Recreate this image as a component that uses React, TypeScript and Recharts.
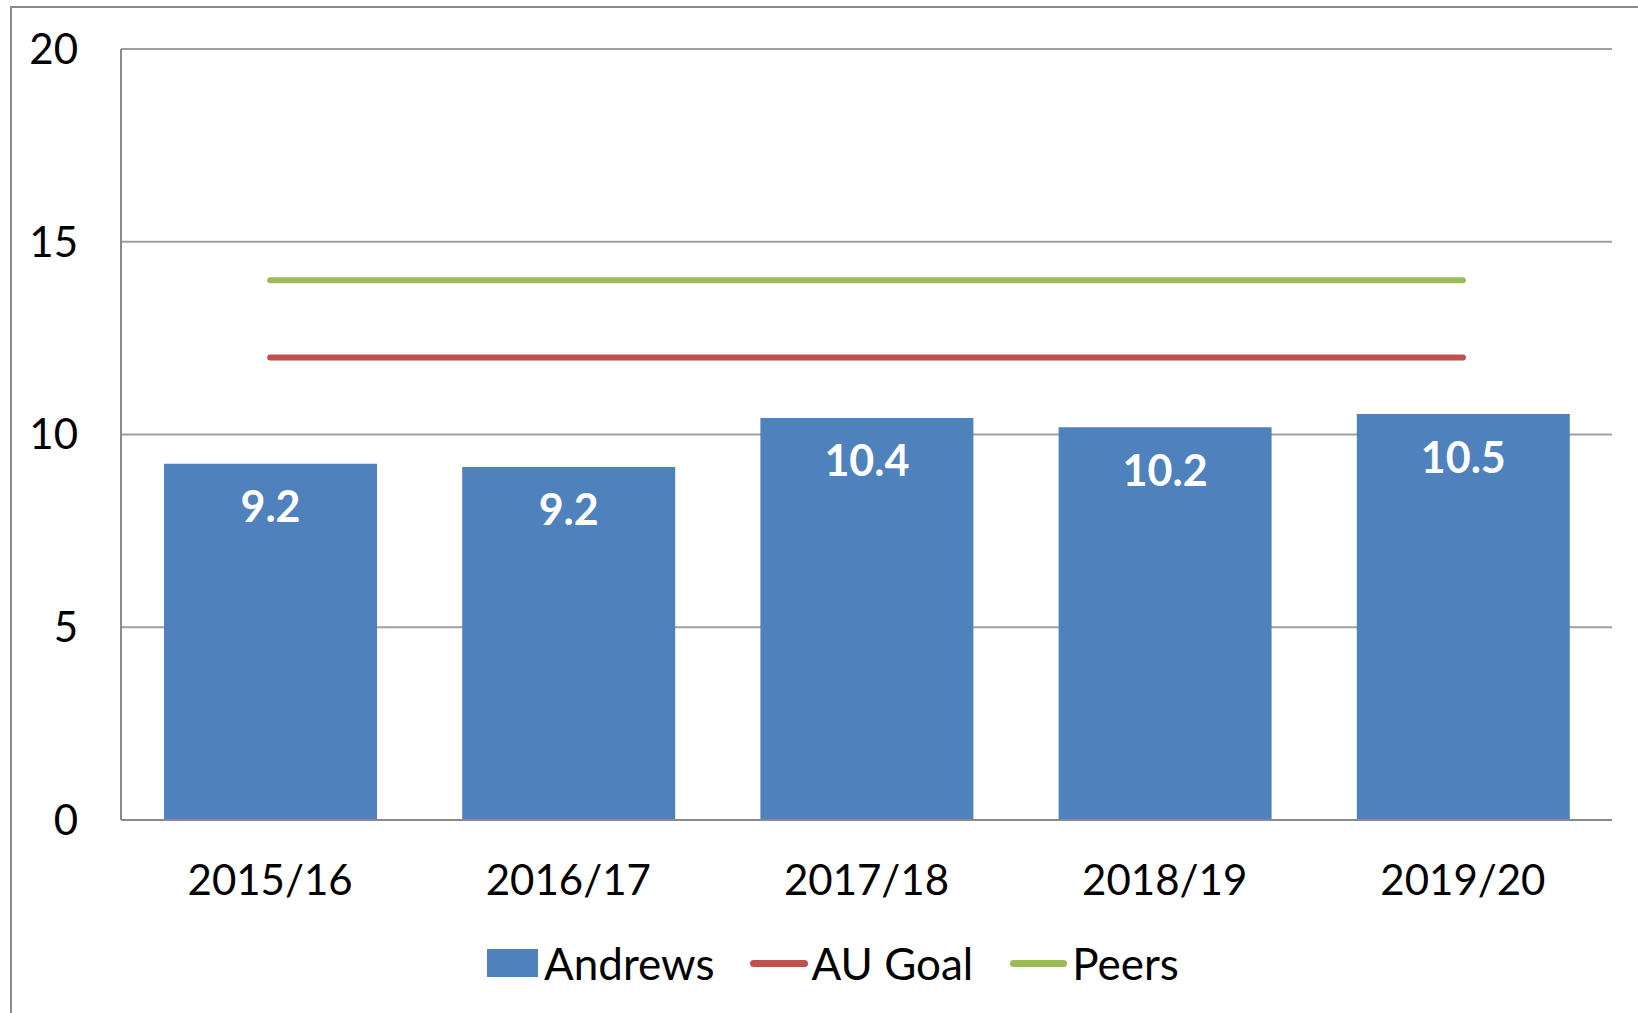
import { ComposedChart, Bar, Line, XAxis, YAxis, CartesianGrid, Legend, LabelList } from 'recharts';

const years = ['2015/16', '2016/17', '2017/18', '2018/19', '2019/20'];
const andrews = [9.24, 9.16, 10.43, 10.19, 10.53];
const auGoal = [12, 12, 12, 12, 12];
const peers = [14, 14, 14, 14, 14];
const yTicks = [0, 5, 10, 15, 20];

const data = years.map((year, i) => ({ year, andrews: andrews[i], goal: auGoal[i], peers: peers[i] }));

const FONT = 'Lato, "Open Sans", sans-serif';

function LegendBox() {
    const text = { fontSize: 44, color: '#000', lineHeight: '50px' };
    return (
        <div style={{ display: 'flex', alignItems: 'center', height: 100, paddingLeft: 487, paddingTop: 0, boxSizing: 'border-box', fontFamily: FONT }}>
            <div style={{ width: 51, height: 28, background: '#4F81BD' }} />
            <span style={{ ...text, marginLeft: 6 }}>Andrews</span>
            <div style={{ width: 58, height: 7, borderRadius: 4, background: '#C0504D', marginLeft: 36 }} />
            <span style={{ ...text, marginLeft: 3 }}>AU Goal</span>
            <div style={{ width: 57, height: 7, borderRadius: 4, background: '#9BBB59', marginLeft: 37 }} />
            <span style={{ ...text, marginLeft: 5 }}>Peers</span>
        </div>
    );
}

export default function App() {
    return (
        <div style={{ position: 'absolute', left: 0, top: 0, width: 1638, height: 1013, overflow: 'hidden', background: '#fff' }}>
            <div style={{ position: 'absolute', left: 10, top: 6, width: 1700, height: 1100, borderLeft: '2px solid #8a8a8a', borderTop: '2px solid #8a8a8a' }} />
            <ComposedChart width={1638} height={1013} data={data} margin={{ top: 49, right: 26, left: 0, bottom: 0 }}>
                <CartesianGrid vertical={false} stroke="#9f9f9f" strokeWidth={2} />
                <XAxis
                    dataKey="year"
                    height={93}
                    axisLine={{ stroke: '#8a8a8a', strokeWidth: 2 }}
                    tickLine={false}
                    tickMargin={39}
                    tick={{ fontSize: 42, fill: '#000', fontFamily: FONT }}
                />
                <YAxis
                    width={121}
                    domain={[0, 20]}
                    ticks={yTicks}
                    axisLine={{ stroke: '#8a8a8a', strokeWidth: 2 }}
                    tickLine={false}
                    tickMargin={37}
                    tick={{ fontSize: 42, fill: '#000', fontFamily: FONT }}
                />
                <Legend verticalAlign="bottom" wrapperStyle={{ left: 0, width: 1638 }} content={() => <LegendBox />} />
                <Bar dataKey="andrews" name="Andrews" fill="#4F81BD" barSize={213} isAnimationActive={false}>
                    <LabelList
                        dataKey="andrews"
                        position="insideTop"
                        offset={28}
                        formatter={(v: any) => Number(v).toFixed(1)}
                        style={{ fontSize: 43, fontWeight: 700, fill: '#fff', fontFamily: FONT }}
                    />
                </Bar>
                <Line dataKey="goal" name="AU Goal" stroke="#C0504D" strokeWidth={6} strokeLinecap="round" dot={false} activeDot={false} isAnimationActive={false} />
                <Line dataKey="peers" name="Peers" stroke="#9BBB59" strokeWidth={6} strokeLinecap="round" dot={false} activeDot={false} isAnimationActive={false} />
            </ComposedChart>
        </div>
    );
}
